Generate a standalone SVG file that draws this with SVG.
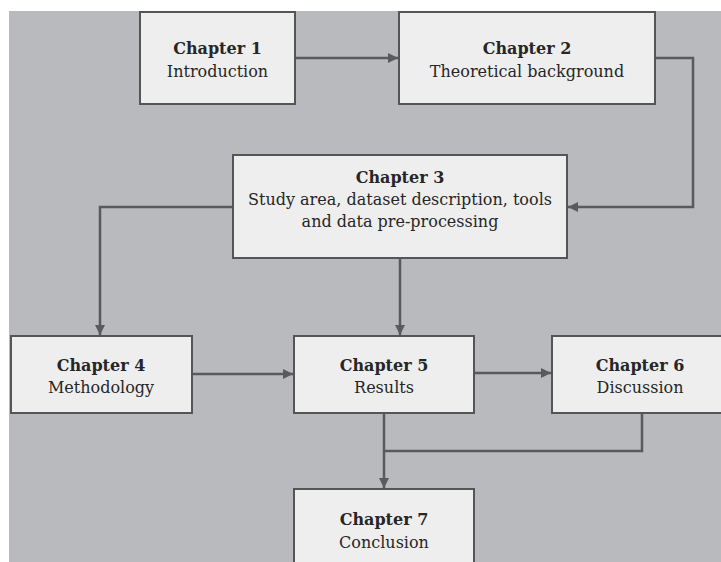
<svg xmlns="http://www.w3.org/2000/svg" width="721" height="562" viewBox="0 0 721 562">
<style>
.box{fill:#eeeeee;stroke:#555558;stroke-width:2}
.t{font-family:"DejaVu Serif","Liberation Serif",serif;font-size:16px;fill:#262626;text-anchor:middle}
.b{font-weight:bold}
.c{fill:none;stroke:#5a5a5e;stroke-width:2.5}
</style>
<defs>
<marker id="ah" viewBox="0 0 10 10" refX="10" refY="5" markerWidth="10" markerHeight="10" markerUnits="userSpaceOnUse" orient="auto">
<path d="M0,0 L10,5 L0,10 Z" fill="#5a5a5e"/>
</marker>
</defs>
<rect x="0" y="0" width="721" height="562" fill="#ffffff"/>
<rect x="9" y="11" width="712" height="551" fill="#b9babe"/>
<g id="connectors">
<path class="c" d="M295,58 H398" marker-end="url(#ah)"/>
<path class="c" d="M655,58 H693 V207 H568" marker-end="url(#ah)"/>
<path class="c" d="M233,207 H100 V335" marker-end="url(#ah)"/>
<path class="c" d="M400,258 V335" marker-end="url(#ah)"/>
<path class="c" d="M192,374 H293" marker-end="url(#ah)"/>
<path class="c" d="M474,373 H551" marker-end="url(#ah)"/>
<path class="c" d="M642,413 V451 H384"/>
<path class="c" d="M384,413 V488" marker-end="url(#ah)"/>
</g>
<g id="ch1">
<rect class="box" x="140" y="12" width="155" height="92"/>
<text class="t b" x="217.5" y="54">Chapter 1</text>
<text class="t" x="217.5" y="77">Introduction</text>
</g>
<g id="ch2">
<rect class="box" x="399" y="12" width="256" height="92"/>
<text class="t b" x="527" y="54">Chapter 2</text>
<text class="t" x="527" y="77">Theoretical background</text>
</g>
<g id="ch3">
<rect class="box" x="233" y="155" width="334" height="103"/>
<text class="t b" x="400" y="183">Chapter 3</text>
<text class="t" x="400" y="205">Study area, dataset description, tools</text>
<text class="t" x="400" y="227">and data pre-processing</text>
</g>
<g id="ch4">
<rect class="box" x="11" y="336" width="181" height="77"/>
<text class="t b" x="101" y="371">Chapter 4</text>
<text class="t" x="101" y="393">Methodology</text>
</g>
<g id="ch5">
<rect class="box" x="294" y="336" width="180" height="77"/>
<text class="t b" x="384" y="371">Chapter 5</text>
<text class="t" x="384" y="393">Results</text>
</g>
<g id="ch6">
<rect class="box" x="552" y="336" width="180" height="77"/>
<text class="t b" x="640" y="371">Chapter 6</text>
<text class="t" x="640" y="393">Discussion</text>
</g>
<g id="ch7">
<rect class="box" x="294" y="489" width="180" height="90"/>
<text class="t b" x="384" y="525">Chapter 7</text>
<text class="t" x="384" y="548">Conclusion</text>
</g>
</svg>
